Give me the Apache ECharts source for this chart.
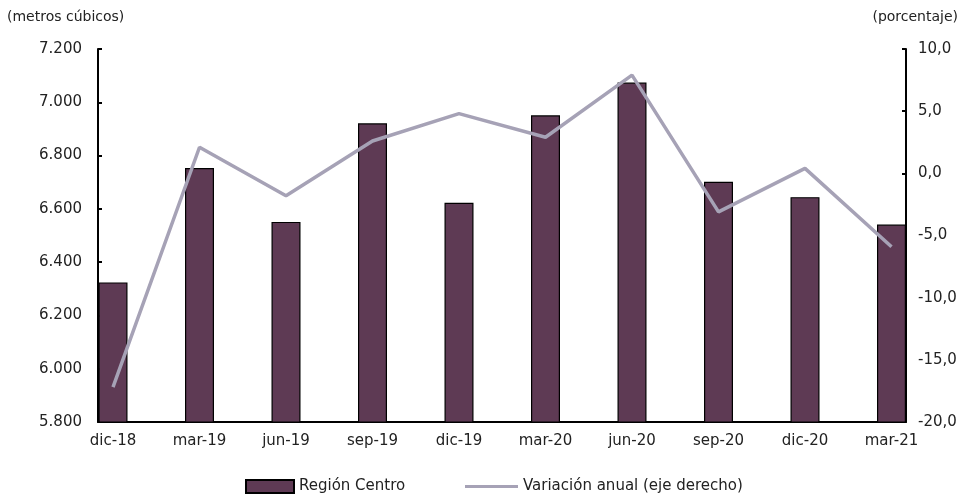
<!DOCTYPE html>
<html>
<head>
<meta charset="utf-8">
<script src="https://cdn.jsdelivr.net/npm/echarts@6/dist/echarts.min.js"></script>
<style>html,body{margin:0;padding:0;background:#fff;}#c{width:968px;height:495px;}</style>
</head>
<body>
<div id="c"></div>
<script>
const categories = ['dic-18','mar-19','jun-19','sep-19','dic-19','mar-20','jun-20','sep-20','dic-20','mar-21'];
const regionCentro = [6324, 6753, 6551, 6921, 6623, 6951, 7074, 6702, 6644, 6541];
const variacionAnual = [-17.2, 2.1, -1.8, 2.6, 4.8, 2.9, 7.9, -3.1, 0.4, -5.9];
const leftTicks = {min: 5800, max: 7200, interval: 200};
const rightTicks = {min: -20, max: 10, interval: 5};

const FONT = 'DejaVu Sans';
const txt = {fontFamily: FONT, fontSize: 15, color: '#222'};
const fmtLeft = v => String(v).replace(/\B(?=(\d{3})+(?!\d))/g, '.');
const fmtRight = v => v.toFixed(1).replace('.', ',');

const chart = echarts.init(document.getElementById('c'));
chart.setOption({
  animation: false,
  backgroundColor: '#fff',
  title: [
    {text: '(metros cúbicos)', left: 7, top: 10, padding: 0, textStyle: Object.assign({}, txt, {fontSize: 14, fontWeight: 'normal'})},
    {text: '(porcentaje)', right: 10, top: 10, padding: 0, textStyle: Object.assign({}, txt, {fontSize: 14, fontWeight: 'normal'})}
  ],
  grid: [
    {left: 98, right: 62, top: 49, bottom: 73},
    {left: 113, right: 76.5, top: 49, bottom: 73}
  ],
  xAxis: [
    {gridIndex: 0, type: 'category', data: categories,
     axisLine: {show: true, onZero: false, lineStyle: {color: '#000', width: 2}},
     axisTick: {show: false}, axisLabel: {show: false}, splitLine: {show: false}},
    {gridIndex: 1, type: 'category', data: categories, boundaryGap: false,
     axisLine: {show: false, onZero: false}, axisTick: {show: false},
     axisLabel: Object.assign({margin: 12, interval: 0}, txt), splitLine: {show: false}}
  ],
  yAxis: [
    {gridIndex: 0, type: 'value', position: 'left', min: leftTicks.min, max: leftTicks.max, interval: leftTicks.interval,
     axisLine: {show: true, onZero: false, lineStyle: {color: '#000', width: 2}},
     axisTick: {show: true, inside: true, length: 4, lineStyle: {color: '#000', width: 2}},
     axisLabel: Object.assign({margin: 16, formatter: fmtLeft}, txt), splitLine: {show: false}},
    {gridIndex: 0, type: 'value', position: 'right', min: rightTicks.min, max: rightTicks.max, interval: rightTicks.interval,
     axisLine: {show: true, onZero: false, lineStyle: {color: '#000', width: 2}},
     axisTick: {show: true, inside: true, length: 4, lineStyle: {color: '#000', width: 2}},
     axisLabel: Object.assign({margin: 12, formatter: fmtRight}, txt), splitLine: {show: false}},
    {gridIndex: 1, type: 'value', min: leftTicks.min, max: leftTicks.max, interval: leftTicks.interval, show: false},
    {gridIndex: 1, type: 'value', min: rightTicks.min, max: rightTicks.max, interval: rightTicks.interval, show: false}
  ],
  legend: [
    {data: [{name: 'Región Centro', icon: 'rect'}], left: 245, top: 479, itemWidth: 48, itemHeight: 13, padding: 0,
     textStyle: Object.assign({}, txt)},
    {data: [{name: 'Variación anual (eje derecho)', icon: 'rect'}], left: 465, top: 479, itemWidth: 53, itemHeight: 3, padding: 0,
     textStyle: Object.assign({}, txt)}
  ],
  series: [
    {name: 'Región Centro', type: 'bar', xAxisIndex: 1, yAxisIndex: 2, data: regionCentro, barWidth: 29,
     itemStyle: {color: '#5E3A54', borderColor: '#000', borderWidth: 1.2}},
    {name: 'Variación anual (eje derecho)', type: 'line', xAxisIndex: 1, yAxisIndex: 3, data: variacionAnual,
     symbol: 'none', lineStyle: {color: '#A6A2B6', width: 3.5}, itemStyle: {color: '#A6A2B6'}, z: 3}
  ]
});
</script>
</body>
</html>
